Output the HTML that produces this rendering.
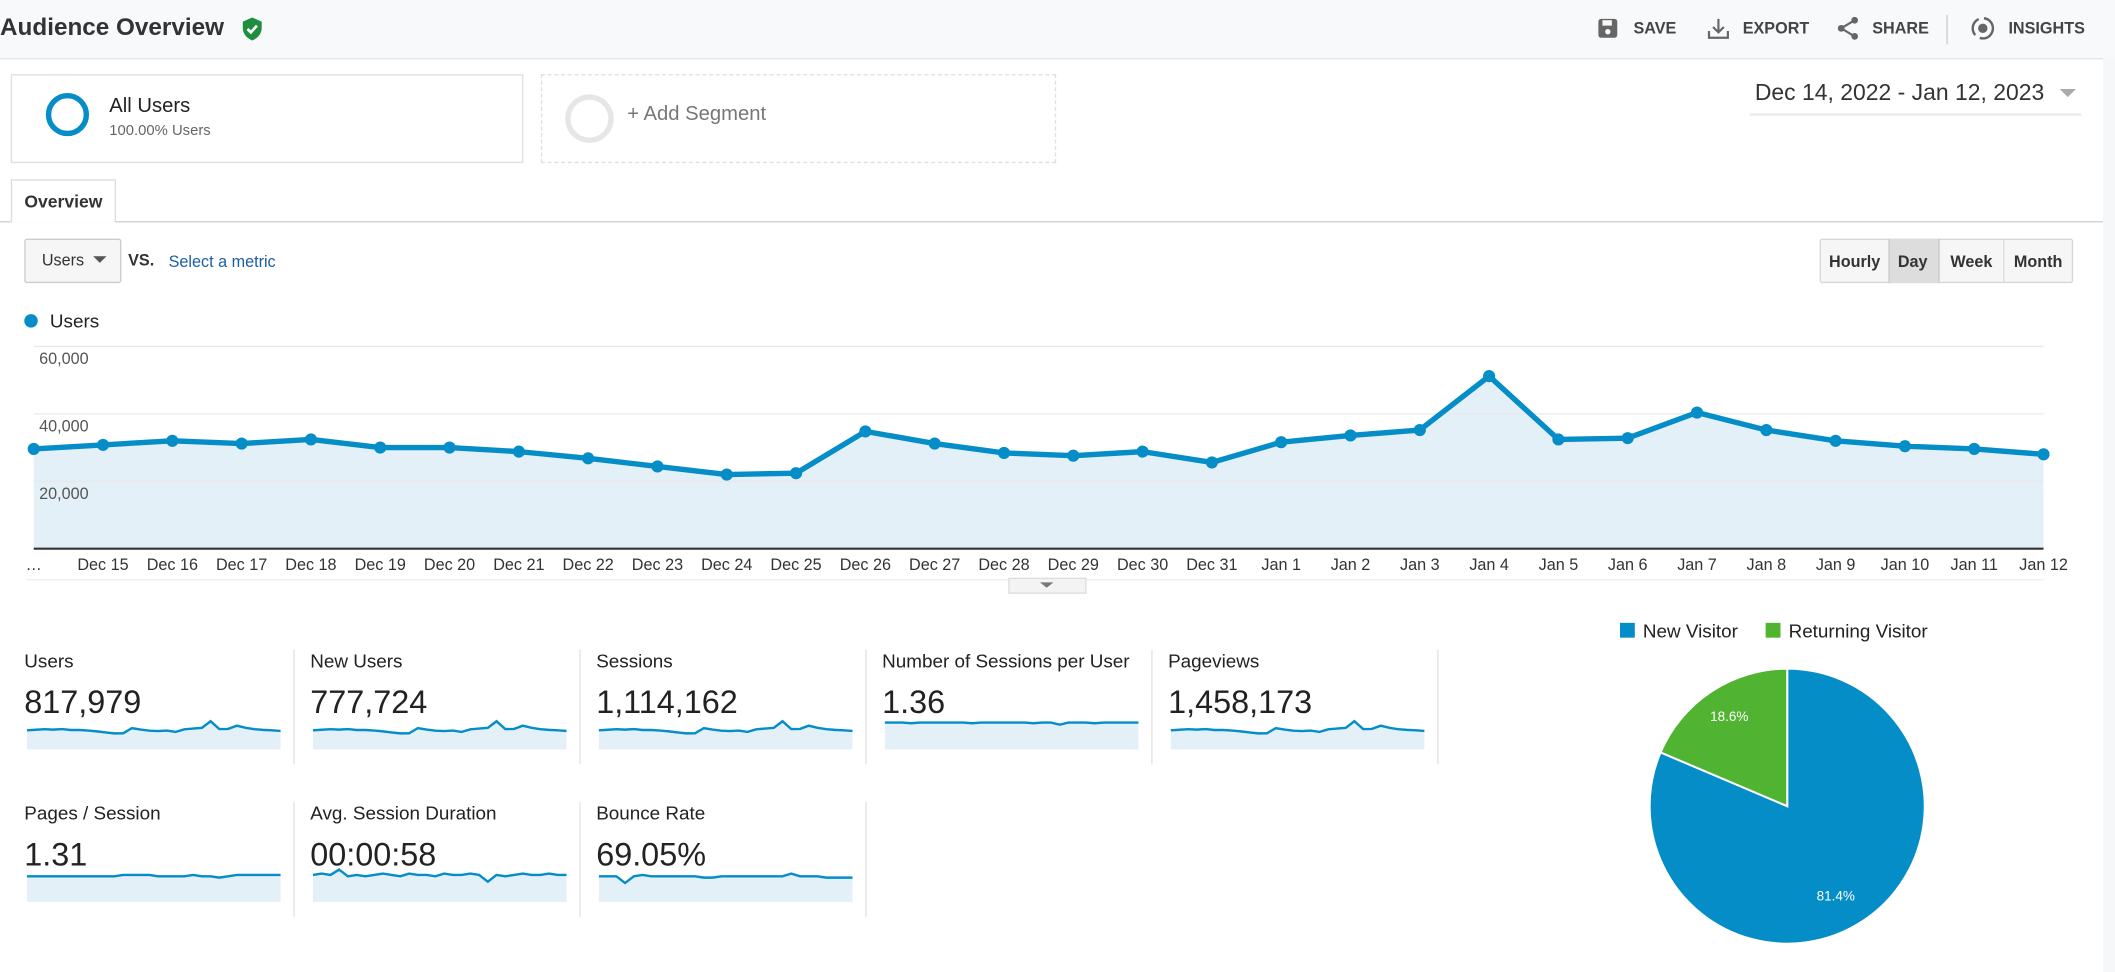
<!DOCTYPE html>
<html><head><meta charset="utf-8">
<style>
html,body{margin:0;padding:0;background:#fff;overflow:hidden}
#w{position:absolute;left:0;top:0;width:1568px;height:721px;transform:scale(1.34885,1.34813);transform-origin:0 0;font-family:"Liberation Sans",Arial,sans-serif;color:#222}
.a{position:absolute;white-space:nowrap}
</style></head><body>
<div id="w">
<div class="a" style="left:0;top:0;width:1568px;height:43px;background:#f8f9fb;border-bottom:1px solid #e3e6ea"></div>
<div class="a" style="left:0;top:10px;font-size:18px;font-weight:bold;color:#333">Audience Overview</div>
<svg class="a" style="left:178px;top:12px" width="18" height="19" viewBox="0 0 18 19"><path d="M9 1 L16 4 V9 C16 13 13 16.5 9 18 C5 16.5 2 13 2 9 V4Z" fill="#1e8e3e"/><path d="M5.5 9.5 L8 12 L12.5 7" stroke="#fff" stroke-width="2" fill="none"/></svg>
<svg class="a" style="left:1184px;top:13px" width="16" height="16"><rect x="1" y="1" width="14" height="14" rx="2" fill="#666"/><rect x="4" y="2" width="7" height="4" fill="#f8f9fb"/><circle cx="8" cy="10.5" r="2" fill="#f8f9fb"/></svg>
<div class="a" style="left:1211px;top:14px;font-size:12px;font-weight:bold;color:#444">SAVE</div>
<svg class="a" style="left:1265px;top:12px" width="18" height="18"><path d="M9 2 V12 M5 8 L9 12 L13 8 M2 11 V16 H16 V11" stroke="#666" stroke-width="1.6" fill="none"/></svg>
<div class="a" style="left:1292px;top:14px;font-size:12px;font-weight:bold;color:#444">EXPORT</div>
<svg class="a" style="left:1361px;top:11px" width="18" height="20"><circle cx="14" cy="4" r="2.5" fill="#666"/><circle cx="4" cy="10" r="2.5" fill="#666"/><circle cx="14" cy="16" r="2.5" fill="#666"/><path d="M14 4 L4 10 L14 16" stroke="#666" stroke-width="1.6" fill="none"/></svg>
<div class="a" style="left:1388px;top:14px;font-size:12px;font-weight:bold;color:#444">SHARE</div>
<div class="a" style="left:1443px;top:11px;width:1px;height:22px;background:#ccc"></div>
<svg class="a" style="left:1460px;top:11px" width="20" height="20"><circle cx="10" cy="10" r="7.5" stroke="#666" stroke-width="1.8" fill="none" stroke-dasharray="14 4"/><circle cx="10" cy="10" r="3.5" fill="#666"/></svg>
<div class="a" style="left:1489px;top:14px;font-size:12px;font-weight:bold;color:#444">INSIGHTS</div>

<div class="a" style="left:8px;top:55px;width:380px;height:66px;border:1px solid #e0e0e0;box-sizing:border-box"></div>
<div class="a" style="left:34px;top:69px;width:32px;height:32px;border:4px solid #058dc7;border-radius:50%;box-sizing:border-box"></div>
<div class="a" style="left:81px;top:70px;font-size:15px;color:#222">All Users</div>
<div class="a" style="left:81px;top:91px;font-size:11px;color:#666">100.00% Users</div>
<div class="a" style="left:401px;top:55px;width:382px;height:66px;border:1px dashed #e0e0e0;box-sizing:border-box"></div>
<div class="a" style="left:419px;top:70px;width:36px;height:36px;border:4px solid #e6e6e6;border-radius:50%;box-sizing:border-box"></div>
<div class="a" style="left:465px;top:76px;font-size:15px;color:#777">+ Add Segment</div>
<div class="a" style="left:1301px;top:59px;font-size:17px;color:#333">Dec 14, 2022 - Jan 12, 2023</div>
<svg class="a" style="left:1526px;top:64px" width="14" height="10"><path d="M1 2 H13 L7 8Z" fill="#aaa"/></svg>
<div class="a" style="left:1297px;top:84px;width:246px;height:2px;background:#eee"></div>
<div class="a" style="left:1559px;top:43px;width:9px;height:678px;background:#f6f7f8"></div>

<div class="a" style="left:0;top:164px;width:1559px;height:1px;background:#cfcfcf"></div>
<div class="a" style="left:8px;top:133px;width:78px;height:32px;border:1px solid #ddd;border-bottom:none;background:#fff;box-sizing:border-box;font-size:13px;font-weight:bold;text-align:center;line-height:32px;color:#333">Overview</div>
<div class="a" style="left:18px;top:177px;width:72px;height:33px;border:1px solid #ccc;border-radius:2px;background:#f6f6f6;box-sizing:border-box;font-size:12px;line-height:31px;padding-left:12px;color:#333">Users</div>
<svg class="a" style="left:69px;top:190px" width="10" height="6"><path d="M0 0 H10 L5 5Z" fill="#555"/></svg>
<div class="a" style="left:95px;top:186px;font-size:12px;font-weight:bold;color:#333">VS.</div>
<div class="a" style="left:125px;top:187px;font-size:12px;color:#1a5fa3">Select a metric</div>
<div class="a" style="left:1349px;top:177px;width:188px;height:33px;border:1px solid #d6d6d6;border-radius:2px;background:#f6f6f6;box-sizing:border-box"></div>
<div class="a" style="left:1400px;top:177px;width:38px;height:33px;background:#ddd;border-left:1px solid #ccc;border-right:1px solid #ccc;box-sizing:border-box"></div>
<div class="a" style="left:1485px;top:177px;width:1px;height:33px;background:#ddd"></div>
<div class="a" style="left:1356px;top:187px;font-size:12px;font-weight:bold;color:#333">Hourly</div>
<div class="a" style="left:1407px;top:187px;font-size:12px;font-weight:bold;color:#333">Day</div>
<div class="a" style="left:1446px;top:187px;font-size:12px;font-weight:bold;color:#333">Week</div>
<div class="a" style="left:1493px;top:187px;font-size:12px;font-weight:bold;color:#333">Month</div>

<svg class="a" id="main" style="left:0;top:220px" width="1568" height="225"></svg>
<svg class="a" id="bot" style="left:0;top:455px" width="1568" height="266"></svg>
</div>
<script>
var ys=[333,330,327,329,326,332,332,335,340,346,352,351,320,329,336,338,335,343,328,323,319,279,326,325,306,319,327,331,333,337];
var labels=["…","Dec 15","Dec 16","Dec 17","Dec 18","Dec 19","Dec 20","Dec 21","Dec 22","Dec 23","Dec 24","Dec 25","Dec 26","Dec 27","Dec 28","Dec 29","Dec 30","Dec 31","Jan 1","Jan 2","Jan 3","Jan 4","Jan 5","Jan 6","Jan 7","Jan 8","Jan 9","Jan 10","Jan 11","Jan 12"];
var o=-220,s='';
s+='<circle cx="23" cy="18" r="5" fill="#058dc7"/><text x="37" y="23" font-size="14" fill="#222">Users</text>';
var pts=ys.map(function(y,i){return [25+i*51.38,y+o];});
var pl=pts.map(function(p){return p[0].toFixed(1)+','+p[1];}).join(' ');
s+='<polygon points="25,'+(407+o)+' '+pl+' 1515,'+(407+o)+'" fill="#e4f0f8"/>';
[257,307,357].forEach(function(y){s+='<line x1="25" x2="1515" y1="'+(y+o)+'" y2="'+(y+o)+'" stroke="#e8e8e8"/>';});
s+='<text x="29" y="'+(270+o)+'" font-size="12" fill="#555">60,000</text><text x="29" y="'+(320+o)+'" font-size="12" fill="#555">40,000</text><text x="29" y="'+(370+o)+'" font-size="12" fill="#555">20,000</text>';
s+='<polyline points="'+pl+'" fill="none" stroke="#058dc7" stroke-width="4" stroke-linejoin="round"/>';
pts.forEach(function(p){s+='<circle cx="'+p[0]+'" cy="'+p[1]+'" r="4.5" fill="#058dc7"/>';});
s+='<line x1="25" x2="1515" y1="'+(407+o)+'" y2="'+(407+o)+'" stroke="#333" stroke-width="1.5"/>';
labels.forEach(function(l,i){s+='<text x="'+(i==0?25:25+i*51.38)+'" y="'+(423+o)+'" font-size="12" fill="#333" text-anchor="middle">'+l+'</text>';});
s+='<line x1="20" x2="1515" y1="'+(430+o)+'" y2="'+(430+o)+'" stroke="#eee"/>';
s+='<rect x="748" y="'+(429+o)+'" width="57" height="11" fill="#f3f3f3" stroke="#ddd"/><path d="M771 '+(432+o)+' h10 l-5 4z" fill="#777"/>';
document.getElementById('main').innerHTML=s;

var b='',ob=-455;
function spark(x,top,vals){var n=vals.length,w=188,pts=vals.map(function(v,i){return (x+i*w/(n-1)).toFixed(1)+','+(top+v+ob).toFixed(1);}).join(' ');
 b+='<polygon points="'+x+','+(top+26+ob)+' '+pts+' '+(x+w)+','+(top+26+ob)+'" fill="#e4f0f8"/><polyline points="'+pts+'" fill="none" stroke="#058dc7" stroke-width="1.8"/>';}
var shape=ys.map(function(y){return 5+(y-279)/73*9;});
var flat=ys.map(function(y,i){return 6+(i==20?1.5:0)+(i%7==3?0.5:0);});
var jit=[6,5,6,2,7,6,7,6,5,6,7,5,6,6,7,5,6,6,5,6,11,6,7,6,5,6,6,5,6,6];
var bounce=[7,7,7,12,7,6,7,7,7,7,7,7,8,8,7,7,7,7,7,7,7,7,5,7,7,7,8,8,8,8];
var flat2=[7,7,7,7,7,7,7,7,7,7,7,6,6,6,6,7,7,7,7,6,7,7,8,7,6,6,6,6,6,6];
var m=[["Users","817,979",18,shape],["New Users","777,724",230,shape],["Sessions","1,114,162",442,shape],["Number of Sessions per User","1.36",654,flat],["Pageviews","1,458,173",866,shape]];
m.forEach(function(q){b+='<text x="'+q[2]+'" y="'+(495+ob)+'" font-size="14" fill="#222">'+q[0]+'</text><text x="'+q[2]+'" y="'+(529+ob)+'" font-size="24" fill="#222">'+q[1]+'</text>';spark(q[2]+2,530,q[3]);});
var m2=[["Pages / Session","1.31",18,flat2],["Avg. Session Duration","00:00:58",230,jit],["Bounce Rate","69.05%",442,bounce]];
m2.forEach(function(q){b+='<text x="'+q[2]+'" y="'+(608+ob)+'" font-size="14" fill="#222">'+q[0]+'</text><text x="'+q[2]+'" y="'+(642+ob)+'" font-size="24" fill="#222">'+q[1]+'</text>';spark(q[2]+2,643,q[3]);});
[218,430,642,854,1066].forEach(function(x){b+='<line x1="'+x+'" x2="'+x+'" y1="'+(482+ob)+'" y2="'+(567+ob)+'" stroke="#e2e2e2"/>';});
[218,430,642].forEach(function(x){b+='<line x1="'+x+'" x2="'+x+'" y1="'+(595+ob)+'" y2="'+(680+ob)+'" stroke="#e2e2e2"/>';});
b+='<rect x="1201" y="'+(462+ob)+'" width="11" height="11" fill="#058dc7"/><text x="1218" y="'+(473+ob)+'" font-size="14" fill="#222">New Visitor</text>';
b+='<rect x="1309" y="'+(462+ob)+'" width="11" height="11" fill="#50b432"/><text x="1326" y="'+(473+ob)+'" font-size="14" fill="#222">Returning Visitor</text>';
var cx=1325,cy=598+ob,r=102,ex=cx-0.9205*r,ey=cy-0.3907*r;
b+='<path d="M'+cx+' '+cy+' L'+cx+' '+(cy-r)+' A'+r+' '+r+' 0 1 1 '+ex.toFixed(1)+' '+ey.toFixed(1)+' Z" fill="#058dc7" stroke="#fff" stroke-width="1.5"/>';
b+='<path d="M'+cx+' '+cy+' L'+ex.toFixed(1)+' '+ey.toFixed(1)+' A'+r+' '+r+' 0 0 1 '+cx+' '+(cy-r)+' Z" fill="#50b432" stroke="#fff" stroke-width="1.5"/>';
b+='<text x="1282" y="'+(535+ob)+'" font-size="10" fill="#fff" text-anchor="middle">18.6%</text><text x="1361" y="'+(668+ob)+'" font-size="10" fill="#fff" text-anchor="middle">81.4%</text>';
document.getElementById('bot').innerHTML=b;
</script>
</body></html>
